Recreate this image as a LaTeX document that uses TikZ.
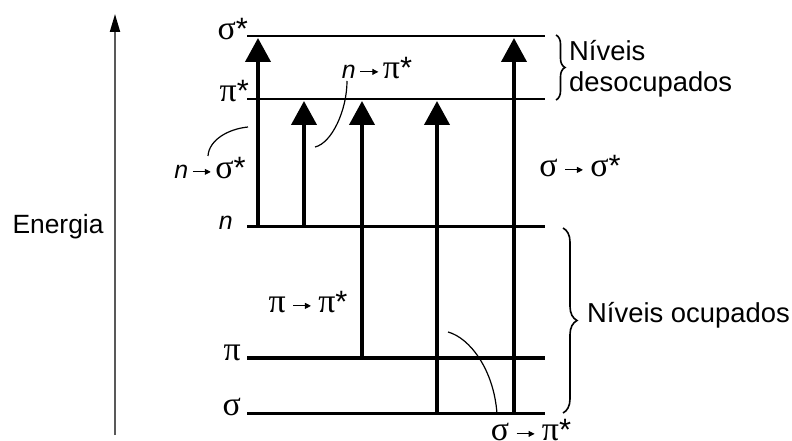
\documentclass[tikz,border=0pt]{standalone}
\usepackage{fontspec}
\setmainfont{Liberation Sans}
\newfontfamily\grkfont{Liberation Serif}
\usetikzlibrary{arrows.meta,decorations.pathreplacing}
\newcommand{\gsig}{{\grkfont\fontsize{34}{34}\selectfont σ}}
\newcommand{\gpi}{{\grkfont\fontsize{34}{34}\selectfont π}}
\newcommand{\gst}{{\fontsize{31}{31}\selectfont *}}
\newcommand{\tarr}{\tikz[baseline=-0.5ex]\draw[line width=0.9pt,-{Triangle[length=6pt,width=6pt]}] (0,0)--(18pt,0);}
\begin{document}
\begin{tikzpicture}[x=1bp,y=-1bp,
  lvl/.style={line width=2.2bp},
  lvlb/.style={line width=3bp},
  trans/.style={line width=4bp,-{Triangle[length=24bp,width=25bp]}},
  lead/.style={line width=1.2bp},
  lbl/.style={font=\fontsize{25}{28}\selectfont, inner sep=0pt},
  side/.style={font=\fontsize{27.5}{31}\selectfont, inner sep=0pt},
  brc/.style={line width=1.6bp, decorate}]
\useasboundingbox (0,0) rectangle (792,441);
% axis
\coordinate (ax0) at (115,435);
\coordinate (ax1) at (115,14);
\draw[line width=2bp, draw=black!65, -{Triangle[length=18bp,width=10bp,color=black]}] (ax0) -- (ax1);
\node[font=\fontsize{26.5}{28}\selectfont, inner sep=0pt, anchor=center] (en) at (58,227) {Energia};
% levels
\coordinate (Lss) at (247,36);  \coordinate (Rss) at (545,36);
\coordinate (Lps) at (247,99);  \coordinate (Rps) at (545,99);
\coordinate (Ln)  at (247,227); \coordinate (Rn)  at (545,227);
\coordinate (Lp)  at (247,358); \coordinate (Rp)  at (545,358);
\coordinate (Ls)  at (247,413); \coordinate (Rs)  at (545,413);
\draw[lvl] (Lss) -- (Rss);
\draw[lvl] (Lps) -- (Rps);
\draw[lvlb] (Ln) -- (Rn);
\draw[lvlb] (Lp) -- (Rp);
\draw[lvlb] (Ls) -- (Rs);
% level labels
\node[lbl, anchor=mid east] (tss) at (248,37) {\gsig\gst};
\node[lbl, anchor=mid east] (tps) at (249,99) {\gpi\gst};
\node[lbl, anchor=mid east] (tn) at (233,227) {\textit{n}};
\node[lbl, anchor=mid east] (tp) at (241,358) {\gpi};
\node[lbl, anchor=mid east] (ts) at (241,413) {\gsig};
% transitions
\coordinate (a1b) at (258,227); \coordinate (a1t) at (258,38);
\coordinate (a2b) at (304,227); \coordinate (a2t) at (304,101);
\coordinate (a3b) at (362,358); \coordinate (a3t) at (362,101);
\coordinate (a4b) at (437,413); \coordinate (a4t) at (437,101);
\coordinate (a5b) at (514,413); \coordinate (a5t) at (514,38);
\draw[trans] (a1b) -- (a1t);
\draw[trans] (a2b) -- (a2t);
\draw[trans] (a3b) -- (a3t);
\draw[trans] (a4b) -- (a4t);
\draw[trans] (a5b) -- (a5t);
% transition labels
\node[lbl] (npi) at (377,68) {\textit{n}\,\tarr\,\gpi\gst};
\node[lbl] (nsig) at (210,168) {\textit{n}\,\tarr\,\gsig\gst};
\node[lbl] (pipi) at (308,302) {\gpi\ \tarr\ \gpi\gst};
\node[lbl] (sigsig) at (580,166) {\gsig\ \tarr\ \gsig\gst};
\node[lbl] (sigpi) at (531,430) {\gsig\ \tarr\ \gpi\gst};
% leader curves
\coordinate (c1a) at (208,156); \coordinate (c1b) at (248,127);
\draw[lead] (c1a) .. controls (209,140) and (228,129) .. (c1b);
\coordinate (c2a) at (347,81); \coordinate (c2b) at (315,147);
\draw[lead] (c2a) .. controls (347,110) and (332,143) .. (c2b);
\coordinate (c3a) at (448,332); \coordinate (c3b) at (497,414);
\draw[lead] (c3a) .. controls (470,338) and (494,370) .. (c3b);
% braces
\coordinate (b1a) at (556,35); \coordinate (b1b) at (556,100);
\draw[brc, decoration={brace, amplitude=9bp}] (b1a) -- (b1b);
\node[side, anchor=base west] (unocc1) at (569,61) {Níveis};
\node[side, anchor=base west] (unocc2) at (569,92) {desocupados};
\coordinate (b2a) at (563,228); \coordinate (b2b) at (563,413);
\draw[brc, decoration={brace, amplitude=14bp}] (b2a) -- (b2b);
\node[side, anchor=mid west] (occ) at (587,320) {Níveis ocupados};
\end{tikzpicture}
\end{document}
